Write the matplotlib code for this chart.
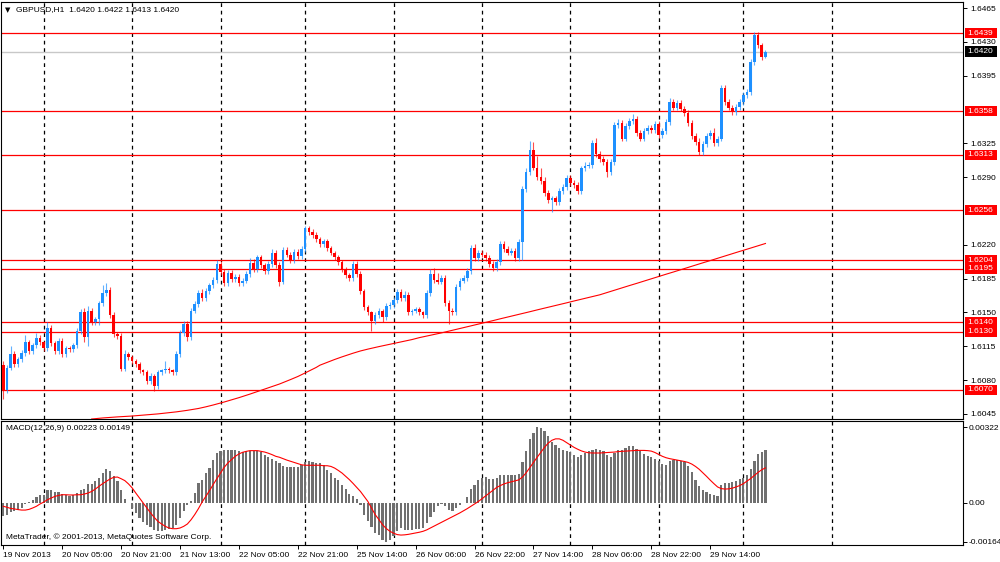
import numpy as np
import matplotlib
matplotlib.use("Agg")
import matplotlib.pyplot as plt
import matplotlib.transforms as mtransforms
from matplotlib.patches import Rectangle

plt.rcParams['font.family'] = ['Liberation Sans', 'DejaVu Sans']

# ---------------- data ----------------
symbol_title = "GBPUSD,H1  1.6420 1.6422 1.6413 1.6420"
macd_title = "MACD(12,26,9) 0.00223 0.00149"
copyright_text = "MetaTrader, \u00a9 2001-2013, MetaQuotes Software Corp."

time_labels = ["19 Nov 2013", "20 Nov 05:00", "20 Nov 21:00", "21 Nov 13:00",
               "22 Nov 05:00", "22 Nov 21:00", "25 Nov 14:00", "26 Nov 06:00",
               "26 Nov 22:00", "27 Nov 14:00", "28 Nov 06:00", "28 Nov 22:00",
               "29 Nov 14:00"]
time_label_bars = [0, 16, 32, 48, 64, 80, 96, 112, 128, 144, 160, 176, 192]
separator_bars = [11, 35, 59, 82, 106, 130, 154, 178, 201, 225]

first_open = 1.6096
closes = [
    1.6070, 1.6093, 1.6107, 1.6097, 1.6102, 1.6108, 1.6119, 1.6110, 1.6116, 1.6124,
    1.6119, 1.6113, 1.6134, 1.6118, 1.6110, 1.6121, 1.6107, 1.6113, 1.6112, 1.6116,
    1.6131, 1.6150, 1.6125, 1.6152, 1.6140, 1.6143, 1.6160, 1.6170, 1.6173, 1.6147,
    1.6128, 1.6126, 1.6092, 1.6107, 1.6104, 1.6100, 1.6097, 1.6090, 1.6088, 1.6079,
    1.6084, 1.6074, 1.6088, 1.6090, 1.6092, 1.6090, 1.6088, 1.6107, 1.6129, 1.6138,
    1.6125, 1.6152, 1.6159, 1.6170, 1.6165, 1.6172, 1.6178, 1.6184, 1.6200, 1.6192,
    1.6180, 1.6191, 1.6185, 1.6187, 1.6180, 1.6183, 1.6190, 1.6201, 1.6195, 1.6207,
    1.6199, 1.6193, 1.6200, 1.6212, 1.6199, 1.6182, 1.6215, 1.6210, 1.6204, 1.6213,
    1.6208, 1.6216, 1.6237, 1.6233, 1.6230, 1.6226, 1.6221, 1.6224, 1.6217, 1.6212,
    1.6207, 1.6202, 1.6195, 1.6189, 1.6186, 1.6200, 1.6190, 1.6172, 1.6156, 1.6150,
    1.6141, 1.6147, 1.6152, 1.6145, 1.6157, 1.6158, 1.6163, 1.6171, 1.6165, 1.6168,
    1.6150, 1.6152, 1.6154, 1.6150, 1.6147, 1.6170, 1.6190, 1.6184, 1.6182, 1.6186,
    1.6160, 1.6152, 1.6150, 1.6176, 1.6183, 1.6186, 1.6193, 1.6217, 1.6206, 1.6212,
    1.6210, 1.6206, 1.6200, 1.6196, 1.6202, 1.6221, 1.6216, 1.6212, 1.6214, 1.6206,
    1.6223, 1.6278, 1.6295, 1.6318, 1.6300, 1.6290, 1.6286, 1.6274, 1.6266, 1.6268,
    1.6264, 1.6276, 1.6280, 1.6289, 1.6284, 1.6282, 1.6276, 1.6299, 1.6302, 1.6303,
    1.6325, 1.6314, 1.6309, 1.6306, 1.6295, 1.6306, 1.6344, 1.6346, 1.6330, 1.6343,
    1.6348, 1.6350, 1.6336, 1.6330, 1.6338, 1.6341, 1.6339, 1.6345, 1.6334, 1.6338,
    1.6347, 1.6368, 1.6362, 1.6367, 1.6361, 1.6356, 1.6346, 1.6333, 1.6326, 1.6316,
    1.6324, 1.6333, 1.6336, 1.6325, 1.6330, 1.6382, 1.6368, 1.6362, 1.6357, 1.6363,
    1.6368, 1.6375, 1.6378, 1.6409, 1.6437, 1.6427, 1.6414, 1.6420,
]
upper_wick_pips = [
    4, 3, 8, 3, 2, 3, 8, 3, 2, 5,
    3, 2, 6, 3, 2, 3, 3, 2, 2, 2,
    3, 4, 5, 5, 3, 2, 2, 8, 8, 3,
    3, 2, 3, 4, 2, 2, 2, 2, 2, 2,
    3, 2, 3, 2, 8, 2, 2, 3, 3, 3,
    3, 3, 3, 3, 4, 3, 3, 3, 4, 3,
    3, 3, 3, 3, 3, 3, 3, 5, 4, 3,
    3, 2, 3, 4, 3, 3, 3, 3, 3, 3,
    3, 3, 3, 3, 3, 3, 2, 2, 2, 2,
    2, 2, 2, 2, 2, 3, 3, 3, 2, 2,
    2, 3, 3, 2, 3, 3, 3, 3, 3, 4,
    3, 2, 2, 2, 2, 3, 5, 6, 7, 3,
    3, 3, 3, 3, 3, 3, 3, 3, 4, 3,
    3, 3, 3, 3, 3, 3, 3, 3, 3, 3,
    3, 3, 4, 9, 8, 12, 10, 4, 3, 3,
    3, 3, 3, 3, 3, 3, 3, 3, 4, 3,
    3, 6, 3, 3, 3, 3, 3, 4, 3, 3,
    3, 5, 3, 3, 3, 3, 3, 3, 3, 3,
    3, 4, 3, 3, 3, 3, 3, 3, 3, 5,
    3, 3, 3, 5, 3, 3, 3, 3, 3, 3,
    3, 3, 3, 3, 3, 3, 2, 2,
]
lower_wick_pips = [
    10, 3, 3, 3, 3, 3, 3, 3, 3, 3,
    3, 3, 3, 3, 3, 3, 3, 3, 3, 3,
    3, 3, 6, 10, 3, 3, 6, 3, 3, 3,
    3, 3, 3, 3, 3, 3, 3, 3, 3, 3,
    3, 5, 3, 3, 3, 3, 3, 3, 3, 3,
    5, 3, 3, 3, 3, 3, 3, 3, 3, 3,
    3, 3, 3, 3, 3, 3, 3, 3, 3, 3,
    3, 3, 3, 3, 3, 5, 3, 3, 3, 3,
    3, 3, 3, 3, 3, 3, 3, 3, 3, 3,
    3, 3, 3, 3, 3, 3, 3, 3, 3, 3,
    10, 3, 3, 5, 3, 3, 3, 3, 3, 3,
    3, 3, 3, 3, 3, 3, 3, 3, 3, 3,
    3, 14, 3, 3, 3, 3, 3, 3, 3, 3,
    3, 3, 3, 3, 3, 3, 3, 3, 3, 3,
    3, 19, 3, 3, 3, 3, 3, 3, 3, 12,
    3, 3, 3, 3, 3, 3, 3, 3, 3, 3,
    3, 3, 3, 3, 5, 3, 3, 3, 3, 3,
    3, 3, 3, 3, 3, 3, 3, 3, 3, 3,
    3, 3, 3, 3, 3, 3, 3, 3, 3, 3,
    3, 3, 3, 3, 3, 3, 3, 3, 3, 3,
    3, 3, 3, 3, 3, 3, 3, 1,
]

ma_start = 24
ma_values = [
    1.60398, 1.60402, 1.60406, 1.60409, 1.60412, 1.60414, 1.60417, 1.60420, 1.60422, 1.60425,
    1.60427, 1.60429, 1.60432, 1.60434, 1.60437, 1.60440, 1.60443, 1.60447, 1.60451, 1.60455,
    1.60459, 1.60464, 1.60468, 1.60472, 1.60477, 1.60482, 1.60488, 1.60494, 1.60500, 1.60507,
    1.60515, 1.60524, 1.60533, 1.60543, 1.60553, 1.60563, 1.60574, 1.60585, 1.60596, 1.60607,
    1.60619, 1.60631, 1.60643, 1.60656, 1.60669, 1.60682, 1.60695, 1.60708, 1.60721, 1.60734,
    1.60747, 1.60760, 1.60775, 1.60790, 1.60806, 1.60822, 1.60838, 1.60856, 1.60875, 1.60894,
    1.60913, 1.60932, 1.60955, 1.60970, 1.60985, 1.61000, 1.61014, 1.61028, 1.61041, 1.61054,
    1.61067, 1.61079, 1.61091, 1.61102, 1.61112, 1.61121, 1.61130, 1.61139, 1.61147, 1.61155,
    1.61163, 1.61171, 1.61179, 1.61187, 1.61194, 1.61202, 1.61210, 1.61220, 1.61230, 1.61240,
    1.61248, 1.61256, 1.61264, 1.61272, 1.61280, 1.61289, 1.61298, 1.61307, 1.61316, 1.61325,
    1.61334, 1.61343, 1.61352, 1.61361, 1.61370, 1.61380, 1.61389, 1.61398, 1.61407, 1.61416,
    1.61426, 1.61435, 1.61444, 1.61453, 1.61462, 1.61472, 1.61481, 1.61490, 1.61499, 1.61508,
    1.61518, 1.61527, 1.61536, 1.61545, 1.61554, 1.61564, 1.61573, 1.61582, 1.61591, 1.61600,
    1.61610, 1.61619, 1.61628, 1.61637, 1.61646, 1.61656, 1.61665, 1.61674, 1.61683, 1.61695,
    1.61707, 1.61719, 1.61730, 1.61742, 1.61754, 1.61766, 1.61778, 1.61789, 1.61801, 1.61813,
    1.61825, 1.61837, 1.61848, 1.61860, 1.61872, 1.61884, 1.61896, 1.61907, 1.61919, 1.61931,
    1.61943, 1.61955, 1.61966, 1.61978, 1.61990, 1.62002, 1.62014, 1.62025, 1.62037, 1.62049,
    1.62061, 1.62073, 1.62084, 1.62096, 1.62108, 1.62120, 1.62132, 1.62143, 1.62155, 1.62167,
    1.62179, 1.62191, 1.62202, 1.62214,
]

macd_hist = [
    -0.00057, -0.00049, -0.00040, -0.00035, -0.00028, -0.00020, -0.00004, 0.00004, 0.00014, 0.00024,
    0.00032, 0.00035, 0.00057, 0.00054, 0.00047, 0.00047, 0.00038, 0.00032, 0.00028, 0.00032,
    0.00042, 0.00057, 0.00061, 0.00081, 0.00082, 0.00092, 0.00106, 0.00127, 0.00146, 0.00137,
    0.00113, 0.00092, 0.00057, 0.00017, 0.00002, -0.00024, -0.00042, -0.00064, -0.00081, -0.00095,
    -0.00103, -0.00113, -0.00117, -0.00117, -0.00114, -0.00110, -0.00106, -0.00095, -0.00064, -0.00035,
    -0.00010, 0.00010, 0.00042, 0.00085, 0.00099, 0.00127, 0.00148, 0.00184, 0.00212, 0.00219,
    0.00223, 0.00226, 0.00226, 0.00223, 0.00219, 0.00216, 0.00219, 0.00219, 0.00219, 0.00219,
    0.00215, 0.00202, 0.00194, 0.00188, 0.00179, 0.00170, 0.00155, 0.00151, 0.00151, 0.00151,
    0.00151, 0.00160, 0.00174, 0.00177, 0.00174, 0.00170, 0.00170, 0.00160, 0.00141, 0.00127,
    0.00106, 0.00099, 0.00078, 0.00061, 0.00038, 0.00028, 0.00018, -0.00010, -0.00049, -0.00075,
    -0.00103, -0.00127, -0.00137, -0.00158, -0.00164, -0.00156, -0.00141, -0.00120, -0.00106, -0.00113,
    -0.00113, -0.00113, -0.00109, -0.00109, -0.00106, -0.00085, -0.00061, -0.00038, -0.00014, -0.00004,
    -0.00014, -0.00028, -0.00032, -0.00021, -0.00010, 0.00002, 0.00024, 0.00061, 0.00078, 0.00097,
    0.00106, 0.00109, 0.00103, 0.00102, 0.00106, 0.00117, 0.00120, 0.00117, 0.00120, 0.00117,
    0.00123, 0.00174, 0.00219, 0.00273, 0.00297, 0.00322, 0.00320, 0.00307, 0.00283, 0.00259,
    0.00244, 0.00233, 0.00226, 0.00222, 0.00216, 0.00205, 0.00194, 0.00202, 0.00212, 0.00219,
    0.00226, 0.00229, 0.00226, 0.00219, 0.00202, 0.00194, 0.00212, 0.00226, 0.00226, 0.00233,
    0.00240, 0.00240, 0.00230, 0.00219, 0.00208, 0.00198, 0.00194, 0.00188, 0.00177, 0.00165,
    0.00162, 0.00177, 0.00184, 0.00184, 0.00179, 0.00174, 0.00155, 0.00131, 0.00099, 0.00071,
    0.00057, 0.00047, 0.00038, 0.00035, 0.00028, 0.00078, 0.00083, 0.00086, 0.00090, 0.00095,
    0.00100, 0.00106, 0.00120, 0.00146, 0.00178, 0.00208, 0.00218, 0.00223,
]
macd_signal = [
    -0.00014, -0.00018, -0.00023, -0.00025, -0.00028, -0.00030, -0.00030, -0.00027, -0.00021, -0.00014,
    -0.00004, 0.00004, 0.00014, 0.00021, 0.00028, 0.00032, 0.00035, 0.00035, 0.00034, 0.00034,
    0.00035, 0.00035, 0.00038, 0.00042, 0.00049, 0.00059, 0.00071, 0.00082, 0.00092, 0.00102,
    0.00109, 0.00110, 0.00103, 0.00095, 0.00081, 0.00064, 0.00042, 0.00021, 0.00000, -0.00021,
    -0.00042, -0.00061, -0.00078, -0.00089, -0.00099, -0.00106, -0.00109, -0.00109, -0.00106, -0.00099,
    -0.00089, -0.00071, -0.00049, -0.00024, 0.00004, 0.00028, 0.00052, 0.00078, 0.00103, 0.00127,
    0.00151, 0.00170, 0.00184, 0.00198, 0.00208, 0.00215, 0.00219, 0.00222, 0.00222, 0.00222,
    0.00219, 0.00216, 0.00211, 0.00205, 0.00198, 0.00194, 0.00188, 0.00182, 0.00177, 0.00172,
    0.00167, 0.00162, 0.00160, 0.00160, 0.00160, 0.00160, 0.00160, 0.00158, 0.00158, 0.00155,
    0.00148, 0.00138, 0.00127, 0.00113, 0.00099, 0.00083, 0.00066, 0.00049, 0.00028, 0.00007,
    -0.00021, -0.00049, -0.00070, -0.00092, -0.00108, -0.00120, -0.00128, -0.00134, -0.00136, -0.00135,
    -0.00133, -0.00130, -0.00127, -0.00124, -0.00120, -0.00114, -0.00106, -0.00098, -0.00090, -0.00082,
    -0.00074, -0.00066, -0.00058, -0.00050, -0.00042, -0.00033, -0.00024, -0.00014, -0.00004, 0.00006,
    0.00018, 0.00030, 0.00042, 0.00054, 0.00066, 0.00074, 0.00081, 0.00086, 0.00090, 0.00094,
    0.00098, 0.00110, 0.00128, 0.00150, 0.00172, 0.00194, 0.00215, 0.00236, 0.00254, 0.00266,
    0.00272, 0.00272, 0.00266, 0.00256, 0.00246, 0.00236, 0.00228, 0.00221, 0.00216, 0.00213,
    0.00212, 0.00212, 0.00212, 0.00213, 0.00214, 0.00215, 0.00216, 0.00218, 0.00219, 0.00220,
    0.00221, 0.00222, 0.00223, 0.00223, 0.00223, 0.00222, 0.00220, 0.00214, 0.00206, 0.00198,
    0.00192, 0.00188, 0.00185, 0.00182, 0.00179, 0.00176, 0.00172, 0.00165, 0.00155, 0.00143,
    0.00128, 0.00113, 0.00097, 0.00082, 0.00068, 0.00061, 0.00059, 0.00060, 0.00063, 0.00068,
    0.00074, 0.00082, 0.00093, 0.00104, 0.00117, 0.00130, 0.00141, 0.00149,
]

levels = [1.6439, 1.6358, 1.6313, 1.6256, 1.6204, 1.6195, 1.6140, 1.6130, 1.6070]
bid_price = 1.6420
price_ticks = [1.6465, 1.6430, 1.6395, 1.6325, 1.6290, 1.6220, 1.6185,
               1.6150, 1.6115, 1.6080, 1.6045]
macd_ticks = [0.00322, 0.0, -0.00164]
macd_tick_labels = ["0.00322", "0.00", "-0.00164"]

# ---------------- figure ----------------
W, H = 1000, 562
fig = plt.figure(figsize=(10, 5.62), dpi=100)
fig.patch.set_facecolor('white')

def frac(x0, y0, x1, y1):
    return [x0 / W, (H - y1) / H, (x1 - x0) / W, (y1 - y0) / H]

ax = fig.add_axes(frac(1, 2, 963, 419))
ax2 = fig.add_axes(frac(1, 421, 963, 545))

n = len(closes)
x = np.arange(n)
c = np.array(closes)
o = np.concatenate([[first_open], c[:-1]])
hi = np.maximum(o, c) + np.array(upper_wick_pips) * 1e-4
lo = np.minimum(o, c) - np.array(lower_wick_pips) * 1e-4

BLUE = '#1E90FF'
RED = '#FF0000'
up = c >= o
cols = np.where(up, BLUE, RED)

xlim = (-0.62, 260.65)
for a in (ax, ax2):
    a.set_xlim(*xlim)
    for s in a.spines.values():
        s.set_color('black')
        s.set_linewidth(0.8)
    for sb in separator_bars:
        a.axvline(sb, color='black', lw=0.9, linestyle=(0, (3, 3)), zorder=1)

ax.set_ylim(1.603982, 1.647122)
ax2.set_ylim(-0.001781, 0.003477)

# horizontal levels
for lv in levels:
    ax.axhline(lv, color=RED, lw=0.9, zorder=2)
ax.axhline(bid_price, color='#c8c8c8', lw=1.0, zorder=2)

# moving average
ma_x = np.arange(ma_start, ma_start + len(ma_values))
ax.plot(ma_x, ma_values, color=RED, lw=0.8, zorder=3)

# candles
ax.vlines(x, lo, hi, colors=cols, lw=0.8, alpha=0.7, zorder=4)
body_bottom = np.minimum(o, c)
body_h = np.maximum(np.abs(c - o), 0.00008)
ax.bar(x, body_h, bottom=body_bottom, width=0.7, color=cols, lw=0, zorder=5)

# MACD
ax2.bar(x, macd_hist, width=0.6, color='#707070', lw=0, zorder=3)
ax2.plot(x, macd_signal, color=RED, lw=0.8, zorder=4)

# ticks
ax.set_xticks([])
ax.yaxis.tick_right()
ax.set_yticks(price_ticks)
ax.set_yticklabels([f"{p:.4f}" for p in price_ticks])
ax.tick_params(axis='y', direction='out', length=3, width=0.7, pad=2,
               labelsize=6, colors='black')

ax2.yaxis.tick_right()
ax2.set_yticks(macd_ticks)
ax2.set_yticklabels(macd_tick_labels)
ax2.tick_params(axis='y', direction='out', length=3, width=0.7, pad=1, labelsize=6)
ax2.set_xticks(time_label_bars)
ax2.set_xticklabels(time_labels)
ax2.tick_params(axis='x', direction='out', length=3, width=0.7, pad=2, labelsize=6)
for lab in ax2.get_xticklabels():
    lab.set_horizontalalignment('left')

# price label boxes on right
tr = mtransforms.blended_transform_factory(ax.transAxes, ax.transData)
box_w = 32 / 962
box_h = 10 / 9643
box_x = (964.5 - 1) / 962
for lv in levels:
    ax.add_patch(Rectangle((box_x, lv - box_h / 2), box_w, box_h, transform=tr,
                           facecolor=RED, edgecolor='none', clip_on=False, zorder=10))
    ax.text(box_x + box_w / 2, lv, f"{lv:.4f}", transform=tr, ha='center', va='center',
            color='white', fontsize=6, clip_on=False, zorder=11)
ax.add_patch(Rectangle((box_x, bid_price - box_h / 2), box_w, box_h, transform=tr,
                       facecolor='black', edgecolor='none', clip_on=False, zorder=10))
ax.text(box_x + box_w / 2, bid_price, f"{bid_price:.4f}", transform=tr, ha='center',
        va='center', color='white', fontsize=6, clip_on=False, zorder=11)

# overlay texts (pixel coordinates)
ov = fig.add_axes([0, 0, 1, 1], facecolor='none')
ov.set_xlim(0, W)
ov.set_ylim(H, 0)
ov.axis('off')
ov.text(5, 10, "\u25bc", fontsize=5, va='center', ha='left', family=['DejaVu Sans'])
ov.text(16, 10, symbol_title, fontsize=6, va='center', ha='left')
ov.text(6, 428, macd_title, fontsize=6, va='center', ha='left')
ov.text(6, 537, copyright_text, fontsize=6, va='center', ha='left')

fig.savefig("out.png", dpi=100, facecolor='white')
